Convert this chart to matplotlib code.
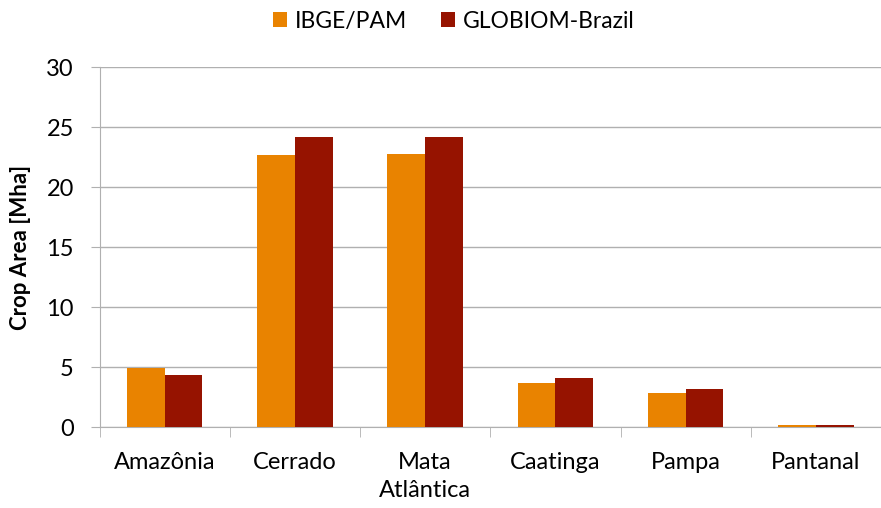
import numpy as np
import matplotlib.pyplot as plt

plt.rcParams['font.family'] = ['Lato', 'DejaVu Sans']

regions = ['Amazônia', 'Cerrado', 'Mata\nAtlântica', 'Caatinga', 'Pampa', 'Pantanal']
ibge_pam = [4.92, 22.65, 22.75, 3.7, 2.8, 0.14]
globiom = [4.33, 24.15, 24.15, 4.05, 3.17, 0.15]
y_ticks = [0, 5, 10, 15, 20, 25, 30]

c_ibge = '#E98300'
c_glob = '#961300'
grid_c = '#B0B0B0'

fig = plt.figure(figsize=(8.81, 5.08), dpi=100)
ax = fig.add_axes([99.5 / 881, 81 / 508, 1 - 99.5 / 881, 360 / 508])

x = np.arange(len(regions))
w = 0.29
ax.bar(x - w / 2, ibge_pam, w, color=c_ibge, label='IBGE/PAM', zorder=3)
ax.bar(x + w / 2, globiom, w, color=c_glob, label='GLOBIOM-Brazil', zorder=3)

ax.set_xlim(-0.5, 5.457)
ax.set_ylim(0, 30)
ax.set_yticks(y_ticks)
ax.tick_params(axis='y', labelsize=17, length=6.5, color=grid_c, pad=12)
ax.yaxis.grid(True, color=grid_c, linewidth=1, zorder=0)

# category labels at centres, tick marks at category boundaries
ax.set_xticks(x)
ax.set_xticklabels(regions, fontsize=17, linespacing=1.4)
ax.tick_params(axis='x', length=0, pad=18)
ax.set_xticks(np.arange(len(regions) + 1) - 0.5, minor=True)
ax.tick_params(axis='x', which='minor', length=7, color=grid_c, direction='out')

for s in ['top', 'right']:
    ax.spines[s].set_visible(False)
for s in ['left', 'bottom']:
    ax.spines[s].set_color(grid_c)

ax.set_ylabel('Crop Area [Mha]', fontsize=16, fontweight='bold', labelpad=11)

fig.legend(loc='center', bbox_to_anchor=(0.515, 0.958), ncol=2, frameon=False,
           fontsize=16.5, handlelength=0.6, handleheight=0.6,
           handletextpad=0.35, columnspacing=1.5)

plt.savefig('out.png', dpi=100)
plt.close()
